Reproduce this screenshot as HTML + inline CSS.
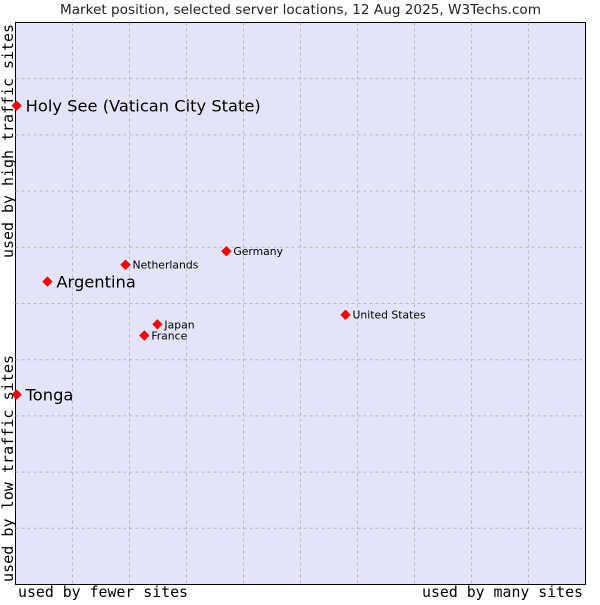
<!DOCTYPE html>
<html><head><meta charset="utf-8"><style>
body{margin:0;background:#fff;width:600px;height:600px;overflow:hidden}
svg text{font-family:"DejaVu Sans","Liberation Sans",sans-serif}
.mono{font-family:"DejaVu Sans Mono","Liberation Mono",monospace}
</style></head><body>
<svg id="chart" width="600" height="600">
<text x="60" y="14" textLength="481" lengthAdjust="spacingAndGlyphs" font-size="13" fill="#222">Market position, selected server locations, 12 Aug 2025, W3Techs.com</text>
<rect x="15.5" y="22.5" width="570" height="562" fill="#e4e4f8" stroke="#000"/>
<g id="grid"></g>
<g id="marks"></g>
<text class="mono" x="18" y="597" font-size="15" textLength="170" lengthAdjust="spacingAndGlyphs">used by fewer sites</text>
<text class="mono" x="422" y="597" font-size="15" textLength="161" lengthAdjust="spacingAndGlyphs">used by many sites</text>
<text class="mono" transform="translate(13,582) rotate(-90)" font-size="15" textLength="227" lengthAdjust="spacingAndGlyphs">used by low traffic sites</text>
<text class="mono" transform="translate(13,258) rotate(-90)" font-size="15" textLength="234" lengthAdjust="spacingAndGlyphs">used by high traffic sites</text>
</svg>
<script>
const names=["Holy See (Vatican City State)","Argentina","Tonga","Netherlands","Germany","United States","Japan","France"];
const xVals=[0.2,5.6,0.2,19.3,37.0,57.9,24.9,22.6];
const yVals=[85.2,53.9,33.8,56.9,59.3,48.0,46.3,44.3];
const big=[true,true,true,false,false,false,false,false];
const L=15.5,T=22.5,W=570,H=562;
const sx=v=>L+v/100*W, sy=v=>T+H-v/100*H;
const NS="http://www.w3.org/2000/svg";
const g=document.getElementById('grid');
for(let i=1;i<10;i++){
 const v=document.createElementNS(NS,'line');
 
 
 const x=L+i*W/10;
 v.setAttribute('x1',x);v.setAttribute('x2',x);v.setAttribute('y1',T);v.setAttribute('y2',T+H);
 v.setAttribute('stroke','#bbbbbb');v.setAttribute('stroke-dasharray','3,3');g.appendChild(v);
 const h=document.createElementNS(NS,'line');
 
 
 const y=T+i*H/10;
 h.setAttribute('x1',L);h.setAttribute('x2',L+W);h.setAttribute('y1',y);h.setAttribute('y2',y);
 h.setAttribute('stroke','#bbbbbb');h.setAttribute('stroke-dasharray','3,3');g.appendChild(h);
}
const m=document.getElementById('marks');
names.forEach((n,i)=>{
 const x=sx(xVals[i]),y=sy(yVals[i]);
 const p=document.createElementNS(NS,'polygon');
 
 
 p.setAttribute('points',`${x-4.5},${y} ${x},${y-4.5} ${x+4.5},${y} ${x},${y+4.5}`);
 p.setAttribute('fill','#f00');p.setAttribute('stroke','#e00');p.setAttribute('stroke-width','1');p.setAttribute('stroke-linejoin','round');
 m.appendChild(p);
 const t=document.createElementNS(NS,'text');
 
 
 t.setAttribute('x',x+(big[i]?9:7));t.setAttribute('y',y+(big[i]?6:4));
 t.setAttribute('font-size',big[i]?'16.3':'10.8');t.setAttribute('fill','#000');
 t.textContent=n;m.appendChild(t);
});
</script>
</body></html>
